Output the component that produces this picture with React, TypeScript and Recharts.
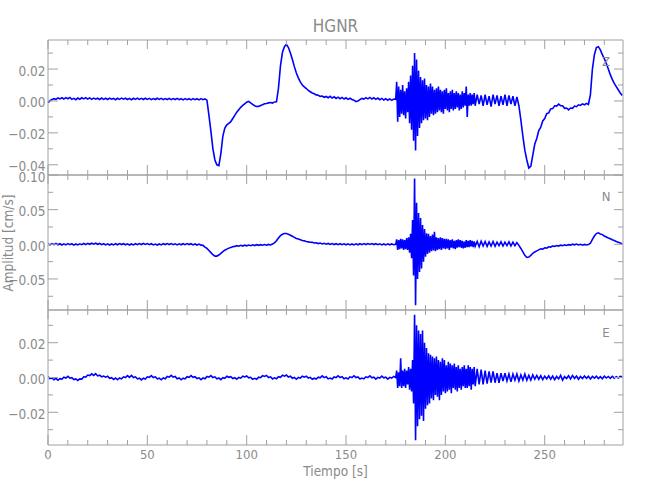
import React from 'react';
import { LineChart, Line, XAxis, YAxis } from 'recharts';

// Sampling grid of the seismogram (seconds)
const sampleSegments = [
  { from: 0, to: 174, step: 1 },
  { from: 175, to: 214.5, step: 0.5 },
  { from: 215, to: 289, step: 1 },
];
const sampleTimes: number[] = [];
for (const seg of sampleSegments) {
  const n = Math.round((seg.to - seg.from) / seg.step);
  for (let i = 0; i <= n; i++) sampleTimes.push(seg.from + i * seg.step);
}

// Values are read in units of 1e-3 cm/s
const VALUE_UNIT = 0.001;

const zValues = [
  -1.0, 0.2, 0.9, 1.4, 1.0, 1.9, 1.3, 2.0, 1.2, 2.1,
  1.4, 2.2, 1.0, 1.6, 0.8, 1.8, 1.1, 2.0, 1.3, 2.1,
  1.2, 1.9, 1.0, 1.8, 1.1, 1.7, 0.9, 1.8, 1.0, 1.7,
  0.9, 1.8, 1.1, 1.6, 0.8, 1.7, 1.0, 1.8, 1.1, 1.7,
  0.9, 1.6, 0.8, 1.7, 1.0, 1.8, 1.0, 1.6, 0.9, 1.7,
  1.0, 1.6, 0.8, 1.5, 0.9, 1.7, 1.0, 1.6, 0.8, 1.5,
  0.9, 1.6, 0.8, 1.5, 0.9, 1.6, 0.8, 1.4, 0.7, 1.5,
  0.8, 1.4, 0.7, 1.5, 0.8, 1.4, 0.7, 1.5, 0.8, 1.3,
  0.5, -9, -19, -30, -37, -40, -40.5, -33, -22, -17,
  -15, -14, -13, -11, -9, -7, -5.5, -4, -2.8, -1.8,
  -0.8, -0.3, -1.2, -2.2, -3.0, -3.5, -3.4, -2.8, -2.4, -1.8,
  -1.6, -1.2, -1.0, -1.3, -0.6, -0.5, 8, 22, 30.5, 34,
  35.5, 33.5, 30, 26, 21.5, 17.5, 14.5, 12, 10, 8.8,
  7.8, 6.6, 5.8, 5.0, 4.5, 3.8, 3.6, 2.9, 3.1, 2.3,
  2.8, 2.0, 2.9, 1.8, 2.6, 1.6, 2.4, 1.4, 2.2, 1.2,
  2.0, 1.0, 1.7, 0.9, 0.5, -0.4, 0.0, 0.8, 1.6, 1.2,
  2.1, 1.3, 2.2, 1.2, 2.0, 1.0, 1.8, 0.8, 1.6, 0.6,
  1.4, 0.5, 1.3, 0.4, 1.2,
  // 175 .. 214.5 (0.5 s)
  1.0, 12, -13, 9, -10, 7, -8, 10, -9, 6,
  -11, 8, -7, 12, -14, 16, -18, 22, -25, 30,
  -31, 26, -22, 19, -17, 15, -14, 13, -12, 14,
  -11, 10, -12, 9, -10, 11, -8, 9, -9, 7,
  -8, 8, -7, 9, -6, 7, -7, 6, -8, 7,
  -5, 8, -6, 5, -7, 6, -5, 7, -6, 5,
  -5, 6, -4, 5, -6, 4, -5, 6, -4, 5,
  -3, 9, -10, 4, -3, 5, -3, 4, -2, 5,
  // 215 .. 289
  -3, 4, -2, 3.5, -3, 4, -2.5, 3, -3.5, 4,
  -2, 3.5, -3, 3, -2.5, 4, -3, 3.5, -2, 3,
  -3, 2.5, -3, -12, -22, -31, -37, -42, -41, -34,
  -27, -23.5, -18.5, -16.5, -12.5, -11, -8, -7.5, -5, -4.8,
  -3, -3.2, -2.0, -3.0, -3.0, -4.6, -4.4, -5.6, -4.4, -4.6,
  -3.2, -3.6, -2.4, -2.8, -1.8, -2.4, -1.5, -2.2, 4, 20,
  29, 33.5, 34, 32, 29, 26.5, 23.5, 20, 16.5, 13.5,
  11, 9, 7, 5, 3.5,
];

const nValues = [
  0.5, -0.8, 1.0, -0.5, 1.2, -0.6, 0.8, -1.0, 0.6, -0.8,
  1.0, -0.5, 0.8, -1.2, 0.5, -0.9, 0.7, -0.6, 1.1, -0.4,
  1.3, 0.0, 1.6, 0.2, 1.5, 0.0, 1.2, -0.5, 0.8, -0.9,
  0.6, -1.0, 0.5, -0.8, 0.9, -0.6, 1.0, -0.4, 0.9, -0.7,
  0.6, -1.0, 0.5, -0.8, 0.8, -0.5, 1.1, -0.3, 1.2, -0.2,
  1.0, -0.5, 0.8, -0.9, 0.4, -1.1, 0.5, -0.8, 0.9, -0.4,
  1.1, -0.3, 1.0, -0.6, 0.7, -0.9, 0.6, -0.7, 0.9, -0.5,
  1.0, -0.4, 0.8, -0.8, 0.5, -1.0, 0.3, -1.2, -1.5, -4,
  -6, -9, -12, -15, -17, -17, -15.5, -13, -10.5, -8.5,
  -7, -5.5, -4.5, -3.5, -3, -2, -2.8, -1.5, -2.5, -1.2,
  -2.2, -1.0, -2.0, -0.8, -1.8, -0.6, -1.5, -0.5, -1.4, -0.4,
  -1.3, -0.2, -1.0, 0.5, 2, 5, 9, 12.5, 14.5, 15.5,
  15.5, 14.5, 13, 11.5, 10, 8.5, 7.5, 6.5, 5.5, 5,
  4, 3.5, 3, 2.8, 1.8, 2.2, 1.0, 1.8, 0.5, 1.4,
  0.2, 1.2, -0.2, 1.0, -0.4, 0.9, -0.5, 0.8, -0.6, 0.7,
  -0.7, 0.6, -0.8, 0.5, -0.9, 0.6, -0.7, 0.8, -0.5, 1.0,
  -0.3, 1.1, -0.2, 1.0, -0.4, 0.8, -0.6, 0.7, -0.8, 0.5,
  -0.9, 0.6, -0.7, 0.5, -0.6,
  // 175 .. 214.5 (0.5 s)
  0, 7, -8, 6, -7, 8, -6, 7, -8, 6,
  -7, 9, -8, 10, -12, 15, -20, 35, -45, 95,
  -88, 60, -50, 45, -40, 38, -35, 28, -25, 22,
  -18, 16, -14, 15, -12, 12, -10, 14, -9, 18,
  -10, 10, -8, 9, -7, 10, -8, 9, -6, 8,
  -7, 8, -6, 7, -8, 6, -5, 7, -6, 5,
  -7, 6, -5, 7, -4, 6, -5, 5, -6, 4,
  -5, 6, -4, 5, -4, 6, -3, 5, -4, 4,
  // 215 .. 289
  -3, 4, -3.5, 4.5, -2.5, 4, -3, 3.5, -2.5, 4,
  -3, 3, -2, 3.5, -2.5, 3, -2, 3.5, -2.5, 3,
  -2, 2.5, -1.5, -6, -11, -16, -19, -18.5, -16, -13,
  -11, -9.5, -8, -6.5, -7, -5, -5.5, -3.5, -4, -2.5,
  -3, -1.8, -2.5, -1.2, -2.0, -0.8, -1.6, -0.5, -1.2, 0.2,
  -0.8, 0.4, -1.0, 0.0, -1.2, -0.2, -1.0, -0.4, 1.5, 7,
  12, 15.5, 16.5, 15, 14, 12, 10.5, 9, 8, 6.5,
  5.5, 4, 3, 2, 0.5,
];

const eValues = [
  0.5, -0.6, -0.3, -1.3, -0.5, -1.6, -0.7, -0.9, 0.2, -0.3,
  0.7, -0.4, -0.1, -1.2, -0.8, -1.7, -0.8, -0.9, 0.4, 0.2,
  1.4, 1.1, 2.1, 1.2, 2.2, 0.9, 1.3, 0.4, 0.8, 0.2,
  0.7, -0.5, -0.1, -1.1, -0.3, -1.3, -0.3, -0.8, 0.4, 0.0,
  1.1, 0.1, 1.2, 0.0, 0.4, -0.8, -0.4, -1.4, -0.4, -0.9,
  0.4, 0.1, 1.1, 0.0, 0.4, -0.8, -0.4, -1.3, -0.3, -0.7,
  0.6, 0.2, 1.2, 0.2, 0.6, -0.7, -0.3, -1.3, -0.4, -0.8,
  0.5, 0.1, 1.1, 0.1, 0.5, -0.6, -0.2, -1.2, -0.3, -0.7,
  0.6, 0.2, 1.1, 0.0, 0.4, -0.8, -0.3, -1.2, -0.1, -0.5,
  0.7, 0.1, 0.5, -0.6, -0.1, -1.0, 0.0, -0.4, 0.8, 0.3,
  0.9, -0.2, 0.1, -1.0, -0.5, -1.0, 0.2, -0.1, 1.1, 0.6,
  1.2, 0.0, 0.4, -0.8, -0.2, -0.7, 0.5, 0.1, 1.3, 0.8,
  1.4, 0.3, 0.7, -0.4, 0.1, -1.0, 0.0, -0.4, 0.7, 0.2,
  0.8, -0.3, 0.1, -1.0, -0.4, -0.9, 0.2, -0.2, 0.9, -0.1,
  0.4, -0.8, -0.3, -0.9, 0.3, -0.1, 1.0, 0.0, 0.5, -0.7,
  -0.2, -0.8, 0.4, 0.0, 1.0, -0.1, 0.3, -0.9, -0.3, -0.8,
  0.4, 0.0, 1.0, -0.2, 0.2, -0.9, 0.1, -0.3, 0.8, -0.2,
  0.2, -0.9, 0.1, -0.3, 0.6,
  // 175 .. 214.5 (0.5 s)
  0, 4, -6, 3, -5, 11, -6, 4, -5, 5,
  -6, 4, -4, 6, -7, 5, -8, 10, -15, 36,
  -36, 30, -28, 27, -24, 25, -22, 27, -25, 20,
  -18, 17, -16, 14, -15, 13, -12, 12, -13, 11,
  -10, 12, -11, 10, -13, 9, -10, 11, -8, 10,
  -9, 7, -8, 9, -7, 8, -9, 7, -6, 8,
  -7, 6, -8, 7, -6, 5, -7, 6, -5, 7,
  -6, 5, -6, 7, -5, 6, -7, 5, -4, 6,
  // 215 .. 289
  -5, 5, -4, 4.5, -4, 4, -3.5, 3.5, -3, 3.5,
  -3, 2.5, -3, 2.5, -2, 2.5, -2, 2, -2.5, 2,
  -1.5, 2, -2, 1.5, -1.5, 2, -1.5, 1.2, -1.5, 1.5,
  -1, 1.2, -1, 1, -1.2, 0.8, -0.8, 1, -1, 0.8,
  -1.2, 0.6, -0.8, 1.2, -1.5, 0.5, -0.6, 1.0, -0.8, 1.2,
  -0.5, 0.8, -1.0, 0.6, -0.6, 0.9, -0.5, 0.7, -0.8, 0.6,
  -0.4, 0.8, -0.6, 0.5, -0.7, 0.8, -0.3, 0.6, -0.5, 0.7,
  -0.4, 0.5, -0.3, 0.6, 0.4,
];

const timeDomain: [number, number] = [0, 289.4];
const timeTicks = [0, 10, 20, 30, 40, 50, 60, 70, 80, 90, 100, 110, 120, 130, 140, 150, 160, 170, 180, 190, 200, 210, 220, 230, 240, 250, 260, 270, 280];
const timeMajorStep = 50;

const zDomain: [number, number] = [-0.0464, 0.0382];
const zTicks = [-0.04, -0.03, -0.02, -0.01, 0, 0.01, 0.02, 0.03];
const nDomain: [number, number] = [-0.0948, 0.1];
const nTicks = [-0.075, -0.05, -0.025, 0, 0.025, 0.05, 0.075, 0.1];
const eDomain: [number, number] = [-0.0388, 0.0388];
const eTicks = [-0.03, -0.02, -0.01, 0, 0.01, 0.02, 0.03];

const AXIS = '#a0a0a0';
const TEXT = '#8a8a8a';
const FONT = "'Liberation Sans Narrow', 'DejaVu Sans Condensed', 'Liberation Sans', sans-serif";
const TRACE = '#0000ff';

const isMultiple = (v: number, step: number) => Math.abs(v / step - Math.round(v / step)) < 1e-6;
const fmtAmp = (v: number) => {
  const s = Math.abs(v) < 1e-9 ? '0.00' : v.toFixed(2);
  return s.replace('-', '\u2212');
};

const panels = [
  { name: 'Z', values: zValues, domain: zDomain, ticks: zTicks, majorStep: 0.02, top: 40, bottom: 175 },
  { name: 'N', values: nValues, domain: nDomain, ticks: nTicks, majorStep: 0.05, top: 175, bottom: 310 },
  { name: 'E', values: eValues, domain: eDomain, ticks: eTicks, majorStep: 0.02, top: 310, bottom: 445 },
];

const PLOT_LEFT = 48;
const RIGHT_W = 27;

function LeftTick(props: any) {
  const { x, y, payload, majorStep } = props;
  const v = payload.value;
  const major = isMultiple(v, majorStep);
  return (
    <g>
      <line x1={x} x2={x + (major ? 10 : 5)} y1={y} y2={y} stroke={AXIS} strokeWidth={1} />
      {major && (
        <text x={x - 2.5} y={y + 6.5} textAnchor="end" fill={TEXT} fontFamily={FONT} fontSize={13.5}>
          {fmtAmp(v)}
        </text>
      )}
    </g>
  );
}

function RightTick(props: any) {
  const { x, y, payload, majorStep } = props;
  const major = isMultiple(payload.value, majorStep);
  return <line x1={x} x2={x - (major ? 9 : 5)} y1={y} y2={y} stroke={AXIS} strokeWidth={1} />;
}

function TopTick(props: any) {
  const { x, y, payload } = props;
  const major = isMultiple(payload.value, timeMajorStep);
  return <line x1={x} x2={x} y1={y} y2={y + (major ? 9 : 5)} stroke={AXIS} strokeWidth={1} />;
}

function BottomTick(props: any) {
  const { x, y, payload, showLabel } = props;
  const major = isMultiple(payload.value, timeMajorStep);
  return (
    <g>
      <line x1={x} x2={x} y1={y} y2={y - (major ? 10 : 5)} stroke={AXIS} strokeWidth={1} />
      {showLabel && major && (
        <text x={x} y={y + 13.5} textAnchor="middle" fill={TEXT} fontFamily={FONT} fontSize={13}>
          {String(payload.value)}
        </text>
      )}
    </g>
  );
}

function Panel({ p, showTimeLabels }: { p: (typeof panels)[number]; showTimeLabels: boolean }) {
  const data = sampleTimes.map((t, i) => ({ t, v: p.values[i] * VALUE_UNIT }));
  const bottomH = showTimeLabels ? 40 : 1;
  return (
    <div style={{ position: 'absolute', left: 0, top: 0 }}>
      <LineChart
        width={650}
        height={500}
        data={data}
        margin={{ top: p.top - 1, right: 0, bottom: 500 - p.bottom - bottomH, left: PLOT_LEFT - 48 }}
      >
        <XAxis
          xAxisId="b"
          dataKey="t"
          type="number"
          domain={timeDomain}
          ticks={timeTicks}
          interval={0}
          allowDataOverflow
          height={bottomH}
          tickSize={0}
          tickMargin={0}
          tickLine={false}
          axisLine={{ stroke: AXIS }}
          tick={(tp: any) => <BottomTick {...tp} showLabel={showTimeLabels} />}
        />
        <XAxis
          xAxisId="t"
          orientation="top"
          dataKey="t"
          type="number"
          domain={timeDomain}
          ticks={timeTicks}
          interval={0}
          allowDataOverflow
          height={1}
          tickSize={0}
          tickMargin={0}
          tickLine={false}
          axisLine={{ stroke: AXIS }}
          tick={(tp: any) => <TopTick {...tp} />}
        />
        <YAxis
          yAxisId="l"
          type="number"
          domain={p.domain}
          ticks={p.ticks}
          interval={0}
          allowDataOverflow
          width={48}
          tickSize={0}
          tickMargin={0}
          tickLine={false}
          axisLine={{ stroke: AXIS }}
          tick={(tp: any) => <LeftTick {...tp} majorStep={p.majorStep} />}
        />
        <YAxis
          yAxisId="r"
          orientation="right"
          type="number"
          domain={p.domain}
          ticks={p.ticks}
          interval={0}
          allowDataOverflow
          width={RIGHT_W}
          tickSize={0}
          tickMargin={0}
          tickLine={false}
          axisLine={{ stroke: AXIS }}
          tick={(tp: any) => <RightTick {...tp} majorStep={p.majorStep} />}
        />
        <Line
          xAxisId="t"
          yAxisId="r"
          dataKey="v"
          stroke="none"
          dot={false}
          activeDot={false}
          isAnimationActive={false}
        />
        <Line
          xAxisId="b"
          yAxisId="l"
          dataKey="v"
          stroke={TRACE}
          strokeWidth={1.6}
          dot={false}
          activeDot={false}
          isAnimationActive={false}
        />
      </LineChart>
    </div>
  );
}

export default function App() {
  return (
    <div style={{ position: 'absolute', left: 0, top: 0, width: 650, height: 500, background: '#fff' }}>
      {panels.map((p, i) => (
        <Panel key={p.name} p={p} showTimeLabels={i === panels.length - 1} />
      ))}
      <svg width={650} height={500} style={{ position: 'absolute', left: 0, top: 0, pointerEvents: 'none' }}>
        <text x={335.5} y={32} textAnchor="middle" fill={TEXT} fontFamily={FONT} fontSize={17}>
          HGNR
        </text>
        <text
          x={0}
          y={0}
          transform="translate(13,243) rotate(-90)"
          textAnchor="middle"
          fill={TEXT}
          fontFamily={FONT}
          fontSize={13.5}
        >
          Amplitud [cm/s]
        </text>
        <text x={335.5} y={476} textAnchor="middle" fill={TEXT} fontFamily={FONT} fontSize={13.5}>
          Tiempo [s]
        </text>
        <text x={606} y={66} textAnchor="middle" fill={TEXT} fontFamily={FONT} fontSize={13}>
          Z
        </text>
        <text x={606} y={201} textAnchor="middle" fill={TEXT} fontFamily={FONT} fontSize={13}>
          N
        </text>
        <text x={606} y={337} textAnchor="middle" fill={TEXT} fontFamily={FONT} fontSize={13}>
          E
        </text>
      </svg>
    </div>
  );
}
